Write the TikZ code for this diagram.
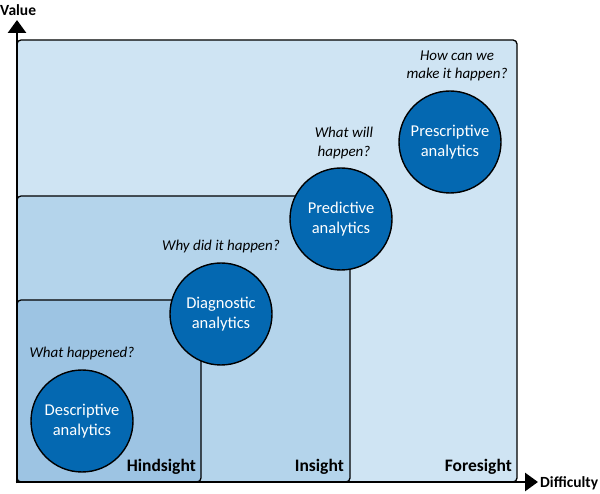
\documentclass[tikz,border=0pt]{standalone}
\usepackage{fontspec}
\setmainfont{Carlito}
\usetikzlibrary{arrows.meta}
\definecolor{foreC}{HTML}{CFE4F3}
\definecolor{insC}{HTML}{B4D4EB}
\definecolor{hindC}{HTML}{9DC4E3}
\definecolor{circB}{HTML}{0468B1}
\begin{document}
\begin{tikzpicture}[x=1pt,y=-1pt,
  zonebox/.style={draw=black, line width=1.3pt, rounded corners=4pt},
  circ/.style={circle, draw=black, line width=1.4pt, fill=circB, text=white,
    minimum size=102pt, inner sep=0pt, align=center,
    font=\fontsize{16.5}{19.5}\selectfont},
  quest/.style={font=\itshape\fontsize{15}{18.5}\selectfont, align=center, inner sep=0pt},
  zonelbl/.style={font=\bfseries\fontsize{17.5}{19}\selectfont, anchor=south east, inner sep=0pt},
  axislbl/.style={font=\bfseries\fontsize{15.5}{17}\selectfont, inner sep=0pt},
  axisline/.style={line width=2.8pt, -{Triangle[length=13pt,width=18pt]}}
]
\useasboundingbox (0,0) rectangle (600,494);
% zones
\draw[zonebox, fill=foreC] (17,482) rectangle (517,40);
\draw[zonebox, fill=insC] (17,482) rectangle (350,196);
\draw[zonebox, fill=hindC] (17,482) rectangle (201,300);
% axes
\coordinate (origin) at (17,482);
\coordinate (ytip) at (17,20);
\coordinate (xtip) at (538,482);
\draw[axisline] (17,483.4) -- (ytip);
\draw[axisline] (15.6,482) -- (xtip);
\node[axislbl, anchor=west] (ylbl) at (0,10) {Value};
\node[axislbl, anchor=west] (xlbl) at (540,483) {Difficulty};
% circles
\node[circ] (desc) at (82,421) {Descriptive\\analytics};
\node[circ] (diag) at (221,314) {Diagnostic\\analytics};
\node[circ] (pred) at (341,219) {Predictive\\analytics};
\node[circ] (presc) at (450,142) {Prescriptive\\analytics};
% questions
\node[quest] (q1) at (82,354) {What happened?};
\node[quest] (q2) at (221,247) {Why did it happen?};
\node[quest] (q3) at (344,143) {What will\\happen?};
\node[quest] (q4) at (457,66) {How can we\\make it happen?};
% zone labels
\node[zonelbl] (hind) at (196,475) {Hindsight};
\node[zonelbl] (ins) at (344,475) {Insight};
\node[zonelbl] (fore) at (512,475) {Foresight};
\end{tikzpicture}
\end{document}
